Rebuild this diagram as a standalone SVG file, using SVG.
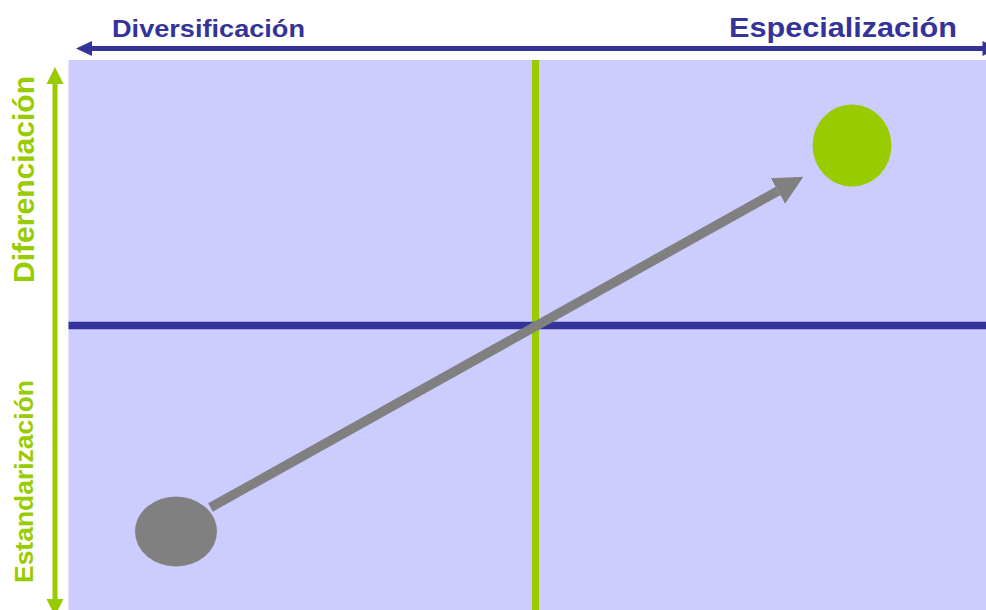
<svg xmlns="http://www.w3.org/2000/svg" width="986" height="610" viewBox="0 0 986 610">
<style>
.lbl{font-family:"Liberation Sans",Arial,sans-serif;font-weight:bold}
.blue{fill:#333399}
.green{fill:#99CC00}
</style>
<defs>
<marker id="gh" viewBox="0 0 10 10" refX="0" refY="5" markerWidth="29" markerHeight="30" markerUnits="userSpaceOnUse" orient="auto">
<path d="M0,0 L10,5 L0,10 Z" fill="#808080"/>
</marker>
</defs>
<rect id="bg" x="68.5" y="60" width="918" height="550" fill="#CCCCFF"/>
<g id="axes">
<line x1="535.5" y1="60" x2="535.5" y2="610" stroke="#99CC00" stroke-width="7"/>
<line x1="68.5" y1="325.5" x2="986" y2="325.5" stroke="#333399" stroke-width="7.5"/>
</g>
<g id="top-arrow">
<line x1="88" y1="48.5" x2="984" y2="48.5" stroke="#333399" stroke-width="5"/>
<path d="M76,48.5 L92,41 L92,56 Z" fill="#333399"/>
<path d="M998,48.5 L982.5,41 L982.5,56 Z" fill="#333399"/>
</g>
<g id="left-arrow">
<line x1="55" y1="80" x2="55" y2="605" stroke="#99CC00" stroke-width="5"/>
<path d="M55,67 L46.5,84 L63.5,84 Z" fill="#99CC00"/>
<path d="M55,616 L46.5,599 L63.5,599 Z" fill="#99CC00"/>
</g>
<g id="labels">
<text class="lbl blue" x="112" y="37" font-size="23" textLength="193" lengthAdjust="spacingAndGlyphs">Diversificación</text>
<text class="lbl blue" x="729" y="37" font-size="28" textLength="228" lengthAdjust="spacingAndGlyphs">Especialización</text>
<text class="lbl green" transform="translate(34,283) rotate(-90)" font-size="30" textLength="207" lengthAdjust="spacingAndGlyphs">Diferenciación</text>
<text class="lbl green" transform="translate(33,583) rotate(-90)" font-size="26" textLength="203" lengthAdjust="spacingAndGlyphs">Estandarización</text>
</g>
<g id="node-start">
<ellipse cx="176" cy="531.5" rx="41" ry="35" fill="#808080"/>
</g>
<g id="node-end">
<ellipse cx="852" cy="145.5" rx="39.5" ry="41" fill="#99CC00"/>
</g>
<g id="connectors">
<line x1="210.5" y1="507.5" x2="778" y2="191" stroke="#808080" stroke-width="9.5" marker-end="url(#gh)"/>
</g>
</svg>
